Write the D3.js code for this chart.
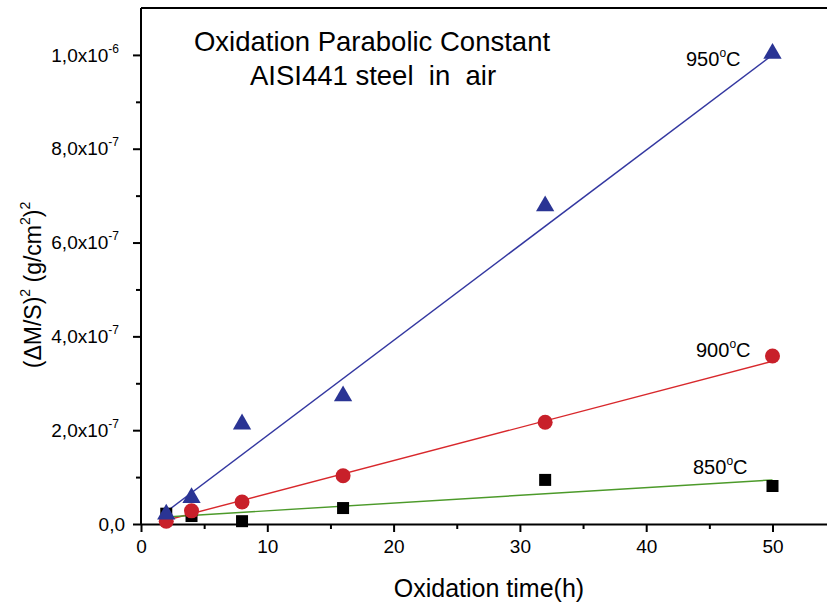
<!DOCTYPE html>
<html>
<head>
<meta charset="utf-8">
<script src="https://cdn.jsdelivr.net/npm/d3@7"></script>
<style>
  html, body { margin: 0; padding: 0; background: #fff; }
  svg { display: block; font-family: "Liberation Sans", Arial, sans-serif; }
</style>
</head>
<body>
<div id="chart"></div>
<script>
// oxidation time (h)
const times = [2, 4, 8, 16, 32, 50]
// (dM/S)^2 in g^2/cm^4
const v950 = [0.23e-7, 0.58e-7, 2.15e-7, 2.75e-7, 6.8e-7, 10.05e-7]
const v900 = [0.06e-7, 0.28e-7, 0.47e-7, 1.03e-7, 2.17e-7, 3.58e-7]
const v850 = [0.22e-7, 0.17e-7, 0.06e-7, 0.34e-7, 0.94e-7, 0.81e-7]
// linear fits (start / end)
const fit950 = [[2, 0.26e-7], [50, 10.0e-7]]
const fit900 = [[2, 0.08e-7], [50, 3.47e-7]]
const fit850 = [[2, 0.15e-7], [50, 0.94e-7]]

const xTicks = [0, 10, 20, 30, 40, 50]
const xMinor = [5, 15, 25, 35, 45, 55]
const yTicks = [0, 2e-7, 4e-7, 6e-7, 8e-7, 1e-6]
const yTickLabels = [['0,0', ''], ['2,0x10', '-7'], ['4,0x10', '-7'], ['6,0x10', '-7'], ['8,0x10', '-7'], ['1,0x10', '-6']]
const yMinor = [1e-7, 3e-7, 5e-7, 7e-7, 9e-7]

const width = 827
const height = 606
const plotLeft = 141
const plotTop = 8
const plotBottom = 524

const x = d3.scaleLinear().domain([0, 55]).range([plotLeft, plotLeft + 55 * 12.63])
const y = d3.scaleLinear().domain([0, 1.1e-6]).range([plotBottom, plotTop])

const svg = d3.select('#chart')
  .append('svg')
  .attr('width', width)
  .attr('height', height)

svg.append('rect').attr('width', width).attr('height', height).attr('fill', '#fff')

// top frame
svg.append('line')
  .attr('x1', plotLeft).attr('x2', width)
  .attr('y1', y(1.1e-6)).attr('y2', y(1.1e-6))
  .attr('stroke', '#000').attr('stroke-width', 2)

// x axis
const xAxis = svg.append('g').attr('transform', `translate(0,${plotBottom})`)
xAxis.call(d3.axisBottom(x).tickValues(xTicks).tickSize(8).tickPadding(8).tickSizeOuter(0))
xAxis.append('g').call(d3.axisBottom(x).tickValues(xMinor).tickSize(5).tickFormat('').tickSizeOuter(0))
  .select('.domain').remove()
xAxis.selectAll('.domain').attr('stroke-width', 2)
xAxis.selectAll('.tick line').attr('stroke-width', 2)
xAxis.selectAll('.tick text').attr('font-size', 19).attr('fill', '#000')
  .style('font-family', '"Liberation Sans", Arial, sans-serif')

// y axis
const yAxis = svg.append('g').attr('transform', `translate(${plotLeft},0)`)
yAxis.call(d3.axisLeft(y).tickValues(yTicks).tickSize(8).tickPadding(8).tickSizeOuter(0))
yAxis.append('g').call(d3.axisLeft(y).tickValues(yMinor).tickSize(5).tickFormat('').tickSizeOuter(0))
  .select('.domain').remove()
yAxis.select('.domain').attr('d', `M0,${plotBottom}V${plotTop}`).attr('stroke-width', 2)
yAxis.selectAll('.tick line').attr('stroke-width', 2)
yAxis.selectAll('.tick text')
  .attr('font-size', 19).attr('fill', '#000')
  .style('font-family', '"Liberation Sans", Arial, sans-serif')
  .each(function (d) {
    const t = d3.select(this).text('')
    const lab = yTickLabels[yTicks.indexOf(d)]
    if (!lab) return
    if (lab[1]) t.attr('x', -22)
    t.append('tspan').text(lab[0])
    if (lab[1]) {
      t.append('tspan').attr('font-size', 12).attr('dy', -9).text(lab[1])
    }
  })

// fit lines
const line = d3.line().x((d) => x(d[0])).y((d) => y(d[1]))
const fits = [
  { pts: fit950, color: '#3337a0' },
  { pts: fit900, color: '#d8282c' },
  { pts: fit850, color: '#4c9a2a' }
]
svg.append('g').selectAll('path')
  .data(fits)
  .join('path')
  .attr('d', (d) => line(d.pts))
  .attr('fill', 'none')
  .attr('stroke', (d) => d.color)
  .attr('stroke-width', 1.4)

// markers
const pts = (vals) => times.map((t, i) => [t, vals[i]])

svg.append('g').selectAll('rect')
  .data(pts(v850))
  .join('rect')
  .attr('x', (d) => x(d[0]) - 6)
  .attr('y', (d) => y(d[1]) - 6)
  .attr('width', 12)
  .attr('height', 12)
  .attr('fill', '#000')

svg.append('g').selectAll('circle')
  .data(pts(v900))
  .join('circle')
  .attr('cx', (d) => x(d[0]))
  .attr('cy', (d) => y(d[1]))
  .attr('r', 7.5)
  .attr('fill', '#c8202a')

const tri = d3.symbol().type(d3.symbolTriangle).size(145)
svg.append('g').selectAll('path')
  .data(pts(v950))
  .join('path')
  .attr('d', tri)
  .attr('transform', (d) => `translate(${x(d[0])},${y(d[1]) + 1})`)
  .attr('fill', '#2a3494')

// temperature labels
const tempLabels = [
  { t: '950', x: 686, y: 66 },
  { t: '900', x: 696, y: 357 },
  { t: '850', x: 693, y: 474 }
]
tempLabels.forEach((d) => {
  const txt = svg.append('text')
    .attr('x', d.x).attr('y', d.y)
    .attr('font-size', 20)
    .attr('fill', '#000')
  txt.append('tspan').text(d.t)
  txt.append('tspan').attr('font-size', 12).attr('dy', -9).text('o')
  txt.append('tspan').attr('dy', 9).text('C')
})

// title
svg.append('text')
  .attr('x', 372).attr('y', 51)
  .attr('text-anchor', 'middle')
  .attr('font-size', 27.5)
  .text('Oxidation Parabolic Constant')
svg.append('text')
  .attr('x', 373).attr('y', 85)
  .attr('text-anchor', 'middle')
  .attr('font-size', 27.5)
  .style('white-space', 'pre')
  .text('AISI441 steel  in  air')

// axis titles
svg.append('text')
  .attr('x', 489).attr('y', 597)
  .attr('text-anchor', 'middle')
  .attr('font-size', 25)
  .text('Oxidation time(h)')

const yt = svg.append('text')
  .attr('transform', 'translate(41,285) rotate(-90)')
  .attr('text-anchor', 'middle')
  .attr('font-size', 23)
yt.append('tspan').text('(\u0394M/S)')
yt.append('tspan').attr('font-size', 14).attr('dy', -11).text('2')
yt.append('tspan').attr('dy', 11).text(' (g/cm')
yt.append('tspan').attr('font-size', 14).attr('dy', -11).text('2')
yt.append('tspan').attr('dy', 11).text(')')
yt.append('tspan').attr('font-size', 14).attr('dy', -11).text('2')
</script>
</body>
</html>
